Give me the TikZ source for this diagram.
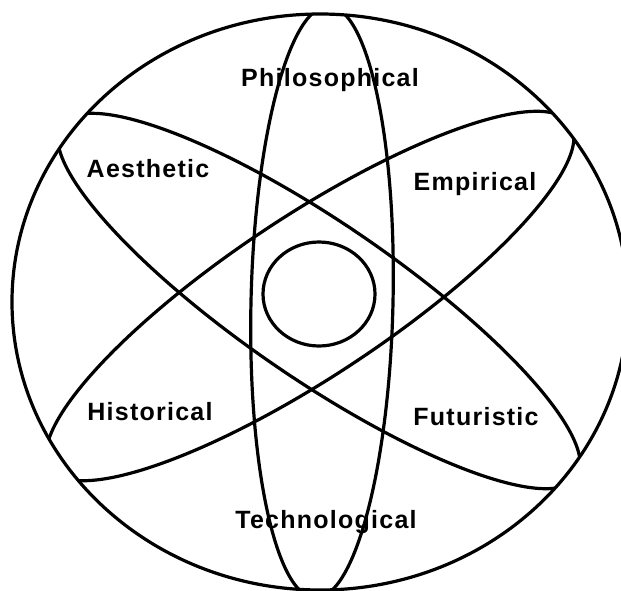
\documentclass[tikz,border=0pt]{standalone}
\usepackage{fontspec}
\newfontfamily\labfont{Liberation Sans}[LetterSpace=5]
\begin{document}
\begin{tikzpicture}[x=1pt,y=-1pt,
  ring/.style={line width=3.2pt,draw=black},
  lab/.style={font=\labfont\bfseries\fontsize{25}{25}\selectfont,anchor=base,inner sep=0pt}]
\useasboundingbox (0,0) rectangle (621,590);
\begin{scope}
  \clip (0,0) rectangle (621,590);
  \draw[ring] (320,302) ellipse [x radius=308,y radius=288];
  \begin{scope}
    \clip (320,302) ellipse [x radius=308,y radius=288];
    \draw[ring,rotate around={-1.3:(322,302)}] (322,302) ellipse [x radius=71,y radius=296];
    \draw[ring,rotate around={-34.4:(319,301)}] (319,301) ellipse [x radius=312,y radius=78];
    \draw[ring,rotate around={33.5:(310,296)}] (310,296) ellipse [x radius=312,y radius=80];
  \end{scope}
  \draw[ring] (319,294) ellipse [x radius=56,y radius=52];
\end{scope}
\node[lab] (phil) at (330,86) {Philosophical};
\node[lab] (aest) at (148,177) {Aesthetic};
\node[lab] (emp) at (475,190) {Empirical};
\node[lab] (hist) at (150,420) {Historical};
\node[lab] (fut) at (476,425) {Futuristic};
\node[lab] (tech) at (326,528) {Technological};
\end{tikzpicture}
\end{document}
